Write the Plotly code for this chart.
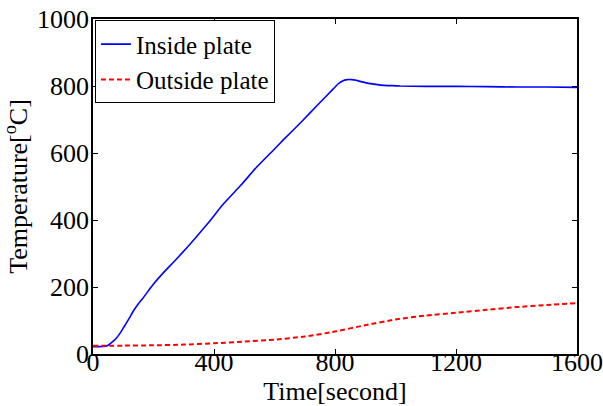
import plotly.graph_objects as go

# Inside plate
t_in = [0, 20, 40, 50, 60, 74, 88, 101, 118, 134, 150, 167, 184, 200, 233, 266, 300, 322, 380, 432, 490, 542, 600, 629, 690, 740, 795, 810, 825, 840, 855, 870, 885, 900, 917, 940, 961, 990, 1016, 1100, 1200, 1300, 1400, 1500, 1600]
T_in = [22, 22, 23, 26, 33, 44, 60, 79, 104, 129, 150, 169, 190, 209, 243, 274, 307, 329, 390, 449, 505, 559, 612, 639, 694, 741, 792, 806, 815, 819, 819, 817, 813, 810, 807, 804, 802, 801, 800, 799, 799, 798, 797, 797, 796]

# Outside plate
t_out = [0, 100, 200, 300, 400, 500, 600, 700, 800, 900, 1000, 1100, 1200, 1300, 1400, 1500, 1600]
T_out = [25, 25, 26, 28, 32, 37, 43, 52, 67, 86, 103, 115, 123, 132, 140, 146, 152]

x_ticks = [0, 400, 800, 1200, 1600]
y_ticks = [0, 200, 400, 600, 800, 1000]

FONT = "Liberation Serif, Times New Roman, serif"

fig = go.Figure()
fig.add_trace(go.Scatter(x=t_in, y=T_in, mode="lines", name="Inside plate",
                         line=dict(color="#0000ff", width=1.6, shape="spline", smoothing=0.3)))
fig.add_trace(go.Scatter(x=t_out, y=T_out, mode="lines", name="Outside plate",
                         line=dict(color="#ff0000", width=2, dash="5px,3px", shape="spline", smoothing=0.5)))

axis_common = dict(showgrid=False, zeroline=False, showline=True, linecolor="black",
                   linewidth=1.5, mirror="ticks", ticks="inside", ticklen=5,
                   tickcolor="black", tickwidth=1,
                   tickfont=dict(family=FONT, size=26, color="black"))

fig.update_xaxes(range=[0, 1600], tickvals=x_ticks, ticktext=[str(v) for v in x_ticks],
                 ticklabelstandoff=-16,
                 title=dict(text="Time[second]", font=dict(family=FONT, size=26, color="black"), standoff=6),
                 **axis_common)
fig.update_yaxes(range=[0, 1000], tickvals=y_ticks, ticktext=[str(v) for v in y_ticks],
                 ticklabelstandoff=-3,
                 title=dict(text="Temperature[<sup>o</sup>C]", font=dict(family=FONT, size=26, color="black"), standoff=2),
                 **axis_common)

fig.update_layout(
    width=603, height=406,
    margin=dict(l=93, r=26, t=19, b=52, autoexpand=False),
    plot_bgcolor="white", paper_bgcolor="white",
    font=dict(family=FONT, color="black"),
    legend=dict(x=0.004, y=0.996, xanchor="left", yanchor="top",
                bgcolor="white", bordercolor="black", borderwidth=1,
                font=dict(family=FONT, size=25, color="black"),
                itemwidth=30, tracegroupgap=0),
    showlegend=True,
)

fig.write_html("out.html", config={"displayModeBar": False},
               post_script="document.body.style.margin='0';document.body.style.overflow='hidden';")
